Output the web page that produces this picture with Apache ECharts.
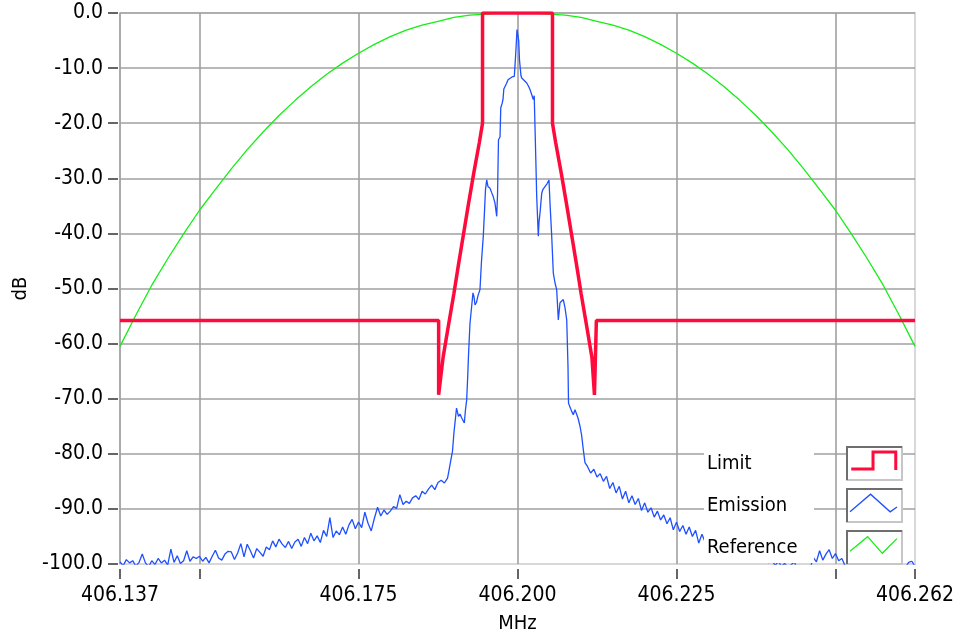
<!DOCTYPE html>
<html>
<head>
<meta charset="utf-8">
<title>Emission mask</title>
<script src="https://cdn.jsdelivr.net/npm/echarts@6.0.0/dist/echarts.min.js"></script>
<style>
  html, body { margin: 0; padding: 0; background: #fff; }
  #main { width: 955px; height: 636px; }
</style>
</head>
<body>
<div id="main"></div>
<script>
// x axis ticks (MHz) - labels only on some of them
const xTickValues = [406.1375, 406.15, 406.175, 406.2, 406.225, 406.25, 406.2625];
const xLabelValues = [406.1375, 406.175, 406.2, 406.225, 406.2625];
const xLabels = ["406.137", "406.175", "406.200", "406.225", "406.262"];

// limit mask (red)
const limitMHz = [406.1375, 406.1876, 406.1876, 406.1879, 406.1883, 406.1891, 406.1900, 406.1907, 406.1915, 406.1923,
  406.1931, 406.1940, 406.1945, 406.1945, 406.2055, 406.2055, 406.2060, 406.2069, 406.2077, 406.2085,
  406.2093, 406.2100, 406.2109, 406.2117, 406.2121, 406.2124, 406.2124, 406.2625];
const limitDb = [-55.8, -55.8, -69.3, -69.3, -62.5, -57.0, -50.9, -45.8, -40.2, -34.6,
  -29.2, -23.5, -20.0, 0, 0, -20.0, -23.5, -29.2, -34.6, -40.2,
  -45.8, -50.9, -57.0, -62.5, -69.3, -69.3, -55.8, -55.8];

// reference curve (green), one value every 2.5 kHz
const refStart = 406.1375;
const refStep = 0.0025;
const referenceDb = [-60.5, -54.8, -49.4, -44.6, -40.1, -35.8, -32.0, -28.3, -24.8, -21.6,
  -18.6, -15.9, -13.4, -11.1, -9.1, -7.3, -5.7, -4.3, -3.1, -2.2,
  -1.5, -0.8, -0.4, -0.2, 0.0, 0.0, 0.0, -0.2, -0.4, -0.8,
  -1.5, -2.2, -3.1, -4.3, -5.7, -7.3, -9.1, -11.1, -13.4, -15.9,
  -18.6, -21.6, -24.8, -28.3, -32.0, -35.8, -40.1, -44.6, -49.4, -54.8, -60.5];

// emission trace (blue): noise floor either side every 0.5 kHz, the carrier read point by point
const floorStep = 0.0005;
const emissionLeftStart = 406.1375;
const emissionLeftDb = [-99.6, -100.3, -99.2, -99.8, -99.4, -100.4, -99.7, -98.2, -99.8, -100.5,
  -99.4, -100.1, -99.0, -99.8, -99.3, -100.2, -97.3, -99.7, -98.5, -99.9,
  -99.4, -97.6, -99.5, -98.7, -99.0, -98.6, -99.5, -98.8, -99.8, -98.6,
  -97.5, -98.9, -99.3, -98.2, -97.7, -97.8, -99.2, -98.0, -96.3, -98.7,
  -96.4, -97.6, -98.9, -97.2, -97.9, -98.6, -96.9, -97.4, -95.8, -96.9,
  -95.5, -96.4, -97.0, -95.9, -97.2, -96.0, -95.5, -96.8, -95.2, -96.3,
  -94.4, -95.8, -94.9, -96.1, -93.9, -95.0, -91.6, -95.2, -94.0, -94.7,
  -93.3, -94.6, -92.9, -91.9, -93.6, -92.4, -93.4, -90.6, -92.6, -94.0,
  -91.7, -89.7, -91.3, -90.2, -91.0, -90.4, -89.6, -89.9, -87.4, -89.2,
  -88.6, -89.0, -88.0, -87.6, -88.3, -86.8, -87.3, -86.4, -85.7, -86.5,
  -85.2, -84.8, -85.3, -84.4];
const emissionCoreMHz = [406.18923, 406.18954, 406.18978, 406.19002, 406.19017, 406.19041, 406.19057, 406.19072, 406.19096, 406.19123,
  406.19143, 406.19164, 406.19182, 406.19201, 406.19217, 406.19230, 406.19253, 406.19277, 406.19300, 406.19316,
  406.19332, 406.19355, 406.19379, 406.19410, 406.19434, 406.19462, 406.19481, 406.19497, 406.19516, 406.19536,
  406.19568, 406.19594, 406.19615, 406.19646, 406.19673, 406.19686, 406.19701, 406.19725, 406.19737, 406.19756,
  406.19772, 406.19785, 406.19803, 406.19827, 406.19851, 406.19882, 406.19914, 406.19950, 406.19969, 406.19981,
  406.19992, 406.20008, 406.20019, 406.20031, 406.20055, 406.20066, 406.20102, 406.20145, 406.20173, 406.20197,
  406.20223, 406.20248, 406.20263, 406.20275, 406.20291, 406.20302, 406.20315, 406.20327, 406.20338, 406.20354,
  406.20381, 406.20401, 406.20432, 406.20464, 406.20495, 406.20511, 406.20538, 406.20563, 406.20590, 406.20616,
  406.20642, 406.20668, 406.20692, 406.20720, 406.20747, 406.20774, 406.20794, 406.20802, 406.20825, 406.20852,
  406.20877, 406.20904, 406.20931, 406.20951, 406.20983, 406.21009, 406.21035, 406.21061];
const emissionCoreDb = [-83.0, -81.0, -79.5, -76.0, -74.4, -71.7, -72.5, -73.2, -72.8, -73.5,
  -73.8, -74.4, -72.0, -70.2, -66.0, -62.0, -56.3, -53.5, -50.8, -51.5,
  -53.0, -52.5, -51.3, -50.2, -45.0, -40.5, -36.0, -32.0, -30.3, -31.5,
  -31.8, -32.6, -33.2, -34.5, -36.9, -33.0, -23.0, -22.5, -17.2, -16.5,
  -15.7, -13.8, -13.6, -12.8, -12.1, -11.9, -11.6, -11.5, -8.0, -5.5,
  -3.0, -2.9, -5.0, -8.5, -11.4, -11.8, -12.2, -12.7, -13.3, -13.9,
  -14.8, -15.7, -15.0, -20.6, -28.0, -33.3, -37.0, -40.5, -38.0, -36.3,
  -32.7, -32.0, -31.5, -31.0, -30.3, -34.5, -40.5, -47.2, -49.0, -50.2,
  -55.7, -52.6, -52.5, -52.0, -53.5, -55.7, -64.1, -70.8, -71.5, -72.3,
  -72.9, -72.0, -72.3, -73.5, -75.0, -76.7, -79.3, -81.6];
const emissionRightStart = 406.2110;
const emissionRightDb = [-82.3, -83.5, -82.8, -84.2, -83.6, -85.0, -84.1, -86.3, -85.2, -87.1,
  -85.9, -88.2, -86.8, -88.9, -87.6, -89.2, -88.1, -90.3, -88.9, -90.6,
  -89.8, -91.5, -90.4, -92.0, -91.1, -92.7, -91.6, -93.8, -92.4, -94.1,
  -93.0, -94.6, -93.3, -95.0, -93.9, -96.2, -94.6, -96.0, -95.4, -96.8,
  -95.9, -97.1, -96.3, -97.6, -96.8, -97.9, -97.2, -98.4, -97.5, -98.6,
  -97.9, -99.0, -98.3, -99.3, -98.6, -99.6, -98.9, -99.8, -99.2, -100.3,
  -99.5, -100.4, -99.9, -100.6, -100.2, -99.6, -100.8, -100.5, -101.0, -100.4,
  -100.9, -98.8, -99.6, -97.6, -99.3, -98.2, -97.4, -99.0, -98.1, -99.4,
  -99.0, -100.3, -100.6, -100.2, -100.8, -100.4, -101.0, -100.5, -100.9, -100.3,
  -100.7, -101.1, -100.4, -100.9, -100.6, -101.0, -100.5, -100.8, -100.4, -100.9,
  -100.6, -99.7, -99.5, -100.4];

const FONT = '"DejaVu Sans Condensed", "DejaVu Sans", sans-serif';
const limitColor = "#ff0a3c";
const emissionColor = "#1e50ff";
const refColor = "#14ee14";
const gridColor = "#a0a0a0";

function pairs(xs, ys) {
  return ys.map((y, i) => [xs[i], y]);
}
// x values of an evenly sampled trace
function sampled(start, step, ys) {
  return ys.map((y, i) => [+(start + i * step).toFixed(5), y]);
}

const limitData = pairs(limitMHz, limitDb);
const referenceData = sampled(refStart, refStep, referenceDb);
const emissionData = sampled(emissionLeftStart, floorStep, emissionLeftDb)
  .concat(pairs(emissionCoreMHz, emissionCoreDb))
  .concat(sampled(emissionRightStart, floorStep, emissionRightDb));

// frames drawn round the legend icons
function iconFrame(y) {
  return {
    type: "group",
    z: 5,
    children: [
      { type: "rect", z: 5, shape: { x: 847, y: y, width: 55, height: 33 },
        style: { fill: "#fff", stroke: "#c6c6c6", lineWidth: 2 } },
      { type: "polyline", z: 5, shape: { points: [[847, y + 33], [847, y], [902, y]] },
        style: { fill: null, stroke: "#6e6e6e", lineWidth: 2 } }
    ]
  };
}

const myChart = echarts.init(document.getElementById("main"), null, { renderer: "canvas" });

const option = {
  animation: false,
  backgroundColor: "#fff",
  grid: {
    left: 120, top: 13, right: 40, bottom: 72,
    show: true, borderColor: "#d8d8d8", borderWidth: 2, backgroundColor: "#fff",
    outerBoundsMode: "none"
  },
  xAxis: {
    type: "value",
    min: 406.1375,
    max: 406.2625,
    position: "bottom",
    offset: 5,
    name: "MHz",
    nameLocation: "middle",
    nameGap: 45,
    nameTextStyle: { fontFamily: FONT, fontSize: 20, color: "#000" },
    axisLine: { show: false, onZero: false },
    axisTick: { show: true, length: 10, customValues: xTickValues, lineStyle: { color: "#333", width: 1.5 } },
    axisLabel: {
      customValues: xLabelValues,
      margin: 16,
      fontFamily: FONT, fontSize: 21, color: "#000",
      formatter: function (v) {
        const i = xLabelValues.findIndex((t) => Math.abs(t - v) < 1e-6);
        return i >= 0 ? xLabels[i] : "";
      }
    },
    splitLine: { show: true, showMinLine: true, showMaxLine: false, lineStyle: { color: gridColor, width: 1.6 } }
  },
  yAxis: {
    type: "value",
    min: -100,
    max: 0,
    interval: 10,
    offset: 2,
    name: "dB",
    nameLocation: "middle",
    nameGap: 86,
    nameTextStyle: { fontFamily: FONT, fontSize: 20, color: "#000" },
    axisLine: { show: false, onZero: false },
    axisTick: { show: true, length: 10, lineStyle: { color: "#333", width: 1.5 } },
    axisLabel: {
      margin: 15,
      fontFamily: FONT, fontSize: 21, color: "#000",
      formatter: (v) => v.toFixed(1)
    },
    splitLine: { show: true, showMinLine: false, showMaxLine: true, lineStyle: { color: gridColor, width: 1.6 } }
  },
  legend: {
    orient: "vertical",
    left: 704,
    top: 443,
    padding: 0,
    itemGap: 6,
    align: "right",
    itemWidth: 47,
    itemHeight: 18,
    selectedMode: false,
    z: 10,
    formatter: (name) => "{t|" + name + "}{s| }",
    textStyle: {
      fontFamily: FONT, fontSize: 20, color: "#000",
      rich: {
        t: { fontFamily: FONT, fontSize: 20, color: "#000", width: 107, height: 30, lineHeight: 30,
          padding: [6, 0, 0, 3], backgroundColor: "#fff", align: "left", verticalAlign: "middle" },
        s: { width: 31, fontSize: 20 }
      }
    },
    data: [
      { name: "Limit", icon: "path://M0,18 L23,18 L23,0 L47,0 L47,19",
        itemStyle: { color: "rgba(0,0,0,0)", borderColor: limitColor, borderWidth: 3 } },
      { name: "Emission", icon: "path://M0,18 L21,0 L41,18 L48,13",
        itemStyle: { color: "rgba(0,0,0,0)", borderColor: emissionColor, borderWidth: 1.3 } },
      { name: "Reference", icon: "path://M0,15 L18,0 L33,17 L48,2",
        itemStyle: { color: "rgba(0,0,0,0)", borderColor: refColor, borderWidth: 1.3 } }
    ]
  },
  graphic: [iconFrame(447), iconFrame(489), iconFrame(531)],
  series: [
    {
      name: "Reference", type: "line", data: referenceData, symbol: "none", showSymbol: false, z: 2,
      lineStyle: { color: refColor, width: 1.3 }, itemStyle: { color: refColor }
    },
    {
      name: "Emission", type: "line", data: emissionData, symbol: "none", showSymbol: false, z: 3,
      lineStyle: { color: emissionColor, width: 1.3 }, itemStyle: { color: emissionColor }
    },
    {
      name: "Limit", type: "line", data: limitData, symbol: "none", showSymbol: false, z: 4,
      lineStyle: { color: limitColor, width: 3.5 }, itemStyle: { color: limitColor }
    }
  ]
};

myChart.setOption(option);
</script>
</body>
</html>
